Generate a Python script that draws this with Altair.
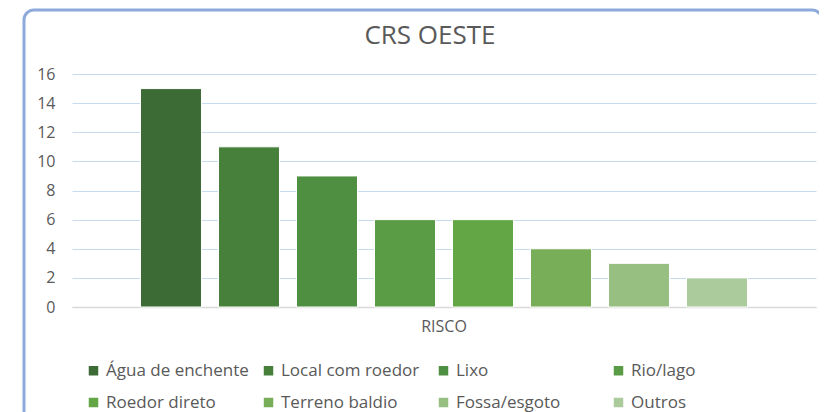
import altair as alt
import pandas as pd

categorias = ["Água de enchente", "Local com roedor", "Lixo", "Rio/lago",
              "Roedor direto", "Terreno baldio", "Fossa/esgoto", "Outros"]
valores = [15, 11, 9, 6, 6, 4, 3, 2]
cores = ["#3d6b35", "#47803b", "#4f8f41", "#5a9b45",
         "#63a645", "#78ae58", "#97bf82", "#abcb9c"]
grupo = "RISCO"
titulo = "CRS OESTE"
y_ticks = [0, 2, 4, 6, 8, 10, 12, 14, 16]

FONT = "Open Sans"
TXT = "#595959"

df = pd.DataFrame({"grupo": [grupo] * len(categorias),
                   "categoria": categorias,
                   "valor": valores})

frame = alt.Chart(pd.DataFrame({"a": [0]})).mark_rect(
    fill="transparent", stroke="#8eaadb", strokeWidth=3, cornerRadius=10
).encode(
    x=alt.value(-48), x2=alt.value(750), y=alt.value(-64), y2=alt.value(350)
)

title = alt.Chart(pd.DataFrame({"t": [titulo]})).mark_text(
    font=FONT, fontSize=26, color=TXT, align="center", baseline="middle"
).encode(text="t:N", x=alt.value(358), y=alt.value(-38))

bars = alt.Chart(df).mark_bar(stroke="white", strokeWidth=1).encode(
    x=alt.X("grupo:N",
            scale=alt.Scale(paddingInner=0, paddingOuter=0),
            axis=alt.Axis(title=None, labelAngle=0, ticks=False,
                          domainColor="#d9d9d9", domainWidth=1.5,
                          labelFontSize=16, labelColor=TXT, labelFont=FONT,
                          labelPadding=11)),
    xOffset=alt.XOffset("categoria:N", sort=categorias,
                        scale=alt.Scale(paddingInner=0.218, paddingOuter=0.878)),
    y=alt.Y("valor:Q", scale=alt.Scale(domain=[0, 16]),
            axis=alt.Axis(values=y_ticks, title=None, ticks=False, domain=False,
                          gridColor="#c6dbef", gridWidth=1,
                          labelFontSize=16, labelColor=TXT, labelFont=FONT,
                          labelPadding=17)),
    color=alt.Color("categoria:N", sort=categorias,
                    scale=alt.Scale(domain=categorias, range=cores),
                    legend=alt.Legend(title=None, orient="none", legendX=13, legendY=288,
                                      columns=4, direction="horizontal",
                                      symbolType="square", symbolSize=90,
                                      symbolStrokeWidth=0, labelFontSize=17,
                                      labelColor=TXT, labelFont=FONT, labelLimit=300,
                                      labelOffset=4, columnPadding=11, rowPadding=14,
                                      gridAlign="all")),
)

chart = alt.layer(frame, title, bars).properties(
    width=744, height=233,
    autosize=alt.AutoSizeParams(type="none"),
    padding={"left": 64, "top": 66, "right": 3, "bottom": 105},
).configure(background="white").configure_view(stroke=None)

chart.save("out.html", embed_options={"renderer": "svg", "actions": False})
